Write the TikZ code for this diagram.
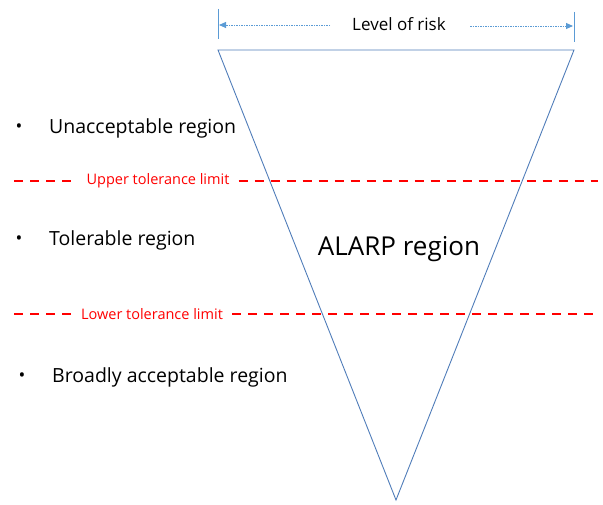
\documentclass[tikz,border=0pt]{standalone}
\usepackage{fontspec}
\setmainfont{Open Sans}
\usetikzlibrary{arrows.meta}
\definecolor{tri}{RGB}{80,125,185}
\definecolor{arr}{RGB}{91,155,213}
\definecolor{lim}{RGB}{255,0,0}
\begin{document}
\begin{tikzpicture}[x=1pt,y=-1pt,
  limline/.style={draw=lim,line width=1.8pt,dash pattern=on 9pt off 7pt},
  limtext/.style={text=lim,font=\fontsize{14.5}{17}\selectfont,inner xsep=9pt,inner ysep=3pt},
  regtext/.style={anchor=west,font=\fontsize{19.5}{23}\selectfont,inner sep=0pt},
  bul/.style={font=\fontsize{18}{21}\selectfont,inner sep=0pt},
  riskarrow/.style={draw=arr,line width=0.9pt,dash pattern=on 1.5pt off 1pt,-{Triangle[length=7pt,width=6pt]}}]
\useasboundingbox (0,0) rectangle (603,505);
% triangle
\coordinate (tl) at (218,50);
\coordinate (tr) at (574,50);
\coordinate (bt) at (396,500);
\draw[tri,line width=0.9pt] (tl) -- (tr) -- (bt) -- cycle;
% ticks
\coordinate (lt1) at (218,9);
\coordinate (lt2) at (218,39);
\coordinate (rt1) at (574,12);
\coordinate (rt2) at (574,42);
\draw[arr,line width=1pt] (lt1) -- (lt2);
\draw[arr,line width=1pt] (rt1) -- (rt2);
\node[font=\fontsize{17}{20}\selectfont,inner sep=0pt] (risk) at (399,24) {Level of risk};
\coordinate (la) at (219,25);
\coordinate (ls) at (330,25);
\coordinate (rs) at (470,26);
\coordinate (ra) at (573,26);
\draw[riskarrow] (ls) -- (la);
\draw[riskarrow] (rs) -- (ra);
% upper limit
\node[limtext] (up) at (158,181) {Upper tolerance limit};
\coordinate (u1) at (14,181);
\coordinate (u2) at (598,181);
\draw[limline] (u1) -- (up.west);
\draw[limline] (up.east) -- (u2);
% lower limit
\node[limtext] (low) at (152,314) {Lower tolerance limit};
\coordinate (l1) at (14,314);
\coordinate (l2) at (598,314);
\draw[limline] (l1) -- (low.west);
\draw[limline] (low.east) -- (l2);
% regions
\node[bul] (b1) at (19,128) {•};
\node[regtext] (r1) at (49,128) {Unacceptable region};
\node[bul] (b2) at (19,240) {•};
\node[regtext] (r2) at (49,240) {Tolerable region};
\node[bul] (b3) at (22,377) {•};
\node[regtext] (r3) at (52,377) {Broadly acceptable region};
\node[font=\fontsize{26}{31}\selectfont,inner sep=0pt] (alarp) at (399,249) {ALARP region};
\end{tikzpicture}
\end{document}
